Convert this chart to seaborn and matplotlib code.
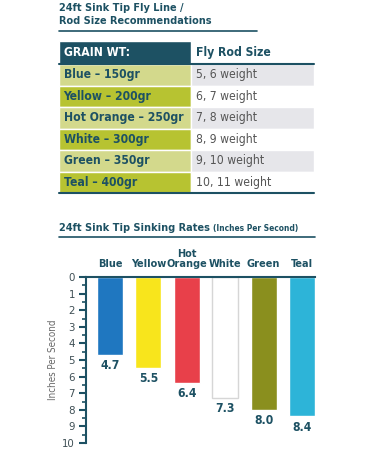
import matplotlib
matplotlib.use("Agg")
import numpy as np
import seaborn as sns
import matplotlib.pyplot as plt

# datos de la tabla
grain = ["Blue – 150gr", "Yellow – 200gr", "Hot Orange – 250gr",
         "White – 300gr", "Green – 350gr", "Teal – 400gr"]
rod_size = ["5, 6 weight", "6, 7 weight", "7, 8 weight",
            "8, 9 weight", "9, 10 weight", "10, 11 weight"]

# datos de las barras
lines = ["Blue", "Yellow", "Hot\nOrange", "White", "Green", "Teal"]
rates = [4.7, 5.5, 6.4, 7.3, 8.0, 8.4]
bar_colors = ["#1f77c0", "#f8e51c", "#e8404a", "#ffffff", "#8a8f1e", "#2db4d8"]

TEAL = "#1d5163"
sns.set_style("white")
plt.rcParams['font.family'] = ['DejaVu Sans']
plt.rcParams['font.stretch'] = 'condensed'

fig = plt.figure(figsize=(3.75, 4.5), dpi=100)
W, H = 375, 450

def fx(px):
    return px / W

def fy(py):
    return 1 - py / H

# titulo de la tabla
fig.text(fx(59), fy(8), "24ft Sink Tip Fly Line /", fontsize=7.8, fontweight="bold",
         color=TEAL, va="center", ha="left")
fig.text(fx(59), fy(21), "Rod Size Recommendations", fontsize=7.8, fontweight="bold",
         color=TEAL, va="center", ha="left")
fig.add_artist(plt.Line2D([fx(59), fx(257)], [fy(31), fy(31)], color=TEAL, lw=1.2))

# tabla
tab = fig.add_axes([fx(59), fy(193), fx(314 - 59), (193 - 41) / H])
hdr = 1.08
split = (191 - 59) / (314 - 59)
rows = np.arange(len(grain)) + hdr
left_cols = ["#d3d98c" if i % 2 == 0 else "#b7c331" for i in range(len(grain))]
right_cols = ["#e6e6ea" if i % 2 == 0 else "#ffffff" for i in range(len(grain))]
tab.barh(rows, [split] * len(grain), left=0, height=1, align="edge", color=left_cols)
tab.barh(rows, [1 - split] * len(grain), left=split, height=1, align="edge", color=right_cols)
tab.barh([0], [split], left=0, height=hdr, align="edge", color=TEAL)
for r in rows[1:]:
    tab.axhline(r, color="#ffffff", lw=0.8, alpha=0.6)
tab.plot([0, 1], [hdr, hdr], color=TEAL, lw=1.5, clip_on=False)
tab.plot([0, 1], [rows[-1] + 1, rows[-1] + 1], color=TEAL, lw=1.5, clip_on=False)
tab.text(0.018, hdr / 2, "GRAIN WT:", color="white", fontsize=8.7, fontweight="bold", va="center")
tab.text(split + 0.02, hdr / 2, "Fly Rod Size", color=TEAL, fontsize=8.7, fontweight="bold", va="center")
for r, g, s in zip(rows, grain, rod_size):
    tab.text(0.018, r + 0.5, g, color=TEAL, fontsize=8.7, fontweight="bold", va="center")
    tab.text(split + 0.02, r + 0.5, s, color="#555555", fontsize=8.7, va="center")
tab.set_xlim(0, 1)
tab.set_ylim(rows[-1] + 1, 0)
tab.axis("off")

# titulo del grafico
t = fig.text(fx(59), fy(228), "24ft Sink Tip Sinking Rates ", fontsize=7.8, fontweight="bold",
             color=TEAL, va="center", ha="left")
fig.canvas.draw()
bb = t.get_window_extent()
fig.text(bb.x1 / W, fy(228.5), "(Inches Per Second)", fontsize=6, fontweight="bold",
         color=TEAL, va="center", ha="left")
fig.add_artist(plt.Line2D([fx(59), fx(315)], [fy(237), fy(237)], color=TEAL, lw=1.2))

# grafico de barras
ax = fig.add_axes([fx(86), fy(443), fx(315 - 86), (443 - 277) / H])
sns.barplot(x=lines, y=rates, hue=lines, palette=bar_colors, legend=False,
            width=0.68, ax=ax, saturation=1)
for p, c in zip(ax.patches, bar_colors):
    if c == "#ffffff":
        p.set_edgecolor("#d6d6d6")
        p.set_linewidth(1)
ax.set_ylim(10, 0)
ax.set_xlim(-0.625, 5.34)
ax.set_yticks(range(0, 11))
ax.set_yticks(np.arange(0.5, 10, 0.5), minor=True)
ax.xaxis.tick_top()
ax.tick_params(axis="x", length=0, pad=6, labelsize=7.8, labelcolor=TEAL)
for lab in ax.get_xticklabels():
    lab.set_fontweight("bold")
    lab.set_linespacing(1.0)
ax.tick_params(axis="y", which="major", length=5, width=1.5, color=TEAL,
               labelsize=8.2, labelcolor="#3f4f55", pad=3, left=True)
ax.tick_params(axis="y", which="minor", length=3, width=1.2, color=TEAL, left=True)
for s in ["bottom", "right"]:
    ax.spines[s].set_visible(False)
for s in ["top", "left"]:
    ax.spines[s].set_color(TEAL)
    ax.spines[s].set_linewidth(1.5)
ax.set_ylabel("Inches Per Second", fontsize=7, color="#666666", labelpad=3)
ax.set_xlabel("")
for cont in ax.containers:
    ax.bar_label(cont, fmt="%.1f", padding=3, fontsize=8.7, fontweight="bold", color=TEAL)

plt.savefig("out.png", dpi=100)
